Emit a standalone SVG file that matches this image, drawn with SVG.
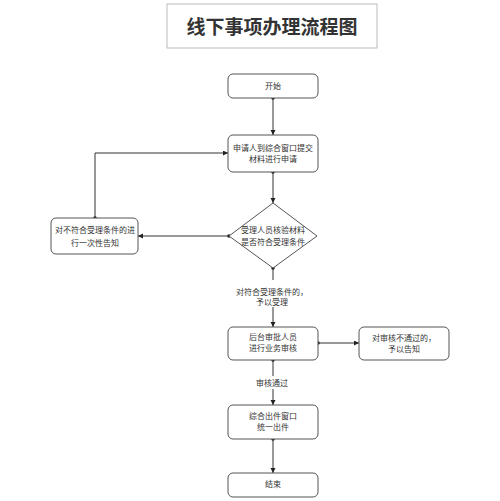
<svg xmlns="http://www.w3.org/2000/svg" width="500" height="501" viewBox="0 0 500 501">
<style>
.box{fill:#fff;stroke:#555;stroke-width:1}
.t{font-family:"Noto Sans CJK SC","Noto Sans",sans-serif;font-size:8px;fill:#333;text-anchor:middle}
.title{font-family:"Noto Sans CJK SC","Noto Sans",sans-serif;font-size:19px;font-weight:bold;fill:#333;text-anchor:middle}
.c{fill:none;stroke:#333;stroke-width:1;marker-start:url(#dot);marker-end:url(#arr)}
.lbg{fill:#fff}
</style>
<defs>
<marker id="arr" markerUnits="userSpaceOnUse" markerWidth="6" markerHeight="6" refX="5" refY="2.5" orient="auto">
<path d="M0,0 L5,2.5 L0,5 z" fill="#222"/>
</marker>
<marker id="dot" markerUnits="userSpaceOnUse" markerWidth="5" markerHeight="5" refX="2.5" refY="2.5">
<circle cx="2.5" cy="2.5" r="1.8" fill="#222"/>
</marker>
</defs>
<rect width="500" height="501" fill="#fff"/>
<g id="title">
<rect x="167" y="4" width="210" height="44" fill="#fff" stroke="#bbb" stroke-width="1"/>
<text class="title" x="272" y="34">线下事项办理流程图</text>
</g>
<g id="connectors">
<path class="c" d="M273,98 V135"/>
<path class="c" d="M273,172 V203"/>
<path class="c" d="M229,236 H138"/>
<path class="c" d="M95,218 V153 H228"/>
<path class="c" d="M273,268 V327"/>
<path class="c" d="M318,343 H359"/>
<path class="c" d="M273,360 V405"/>
<path class="c" d="M273,439 V473"/>
<rect class="lbg" x="233" y="280" width="80" height="27"/>
<text class="t" x="272" y="295">对符合受理条件的，</text>
<text class="t" x="272" y="305">予以受理</text>
<rect class="lbg" x="252" y="376" width="40" height="13"/>
<text class="t" x="272" y="386">审核通过</text>
</g>
<g id="start">
<rect class="box" x="228" y="74" width="90" height="24" rx="5"/>
<text class="t" x="273" y="89">开始</text>
</g>
<g id="apply">
<rect class="box" x="228" y="135" width="90" height="37" rx="5"/>
<text class="t" x="273" y="151">申请人到综合窗口提交</text>
<text class="t" x="273" y="162">材料进行申请</text>
</g>
<g id="check">
<polygon class="box" points="273,203 317,236 273,268 229,236"/>
<text class="t" x="273" y="233">受理人员核验材料</text>
<text class="t" x="273" y="245">是否符合受理条件</text>
</g>
<g id="reject">
<rect class="box" x="51" y="218" width="87" height="36" rx="5"/>
<text class="t" x="95" y="233">对不符合受理条件的进</text>
<text class="t" x="95" y="246">行一次性告知</text>
</g>
<g id="review">
<rect class="box" x="228" y="327" width="90" height="33" rx="5"/>
<text class="t" x="273" y="340">后台审批人员</text>
<text class="t" x="273" y="351">进行业务审核</text>
</g>
<g id="notify">
<rect class="box" x="359" y="327" width="90" height="33" rx="5"/>
<text class="t" x="404" y="341">对审核不通过的，</text>
<text class="t" x="404" y="352">予以告知</text>
</g>
<g id="issue">
<rect class="box" x="228" y="405" width="90" height="34" rx="5"/>
<text class="t" x="273" y="419">综合出件窗口</text>
<text class="t" x="273" y="430">统一出件</text>
</g>
<g id="end">
<rect class="box" x="228" y="473" width="90" height="24" rx="5"/>
<text class="t" x="273" y="487">结束</text>
</g>
</svg>
